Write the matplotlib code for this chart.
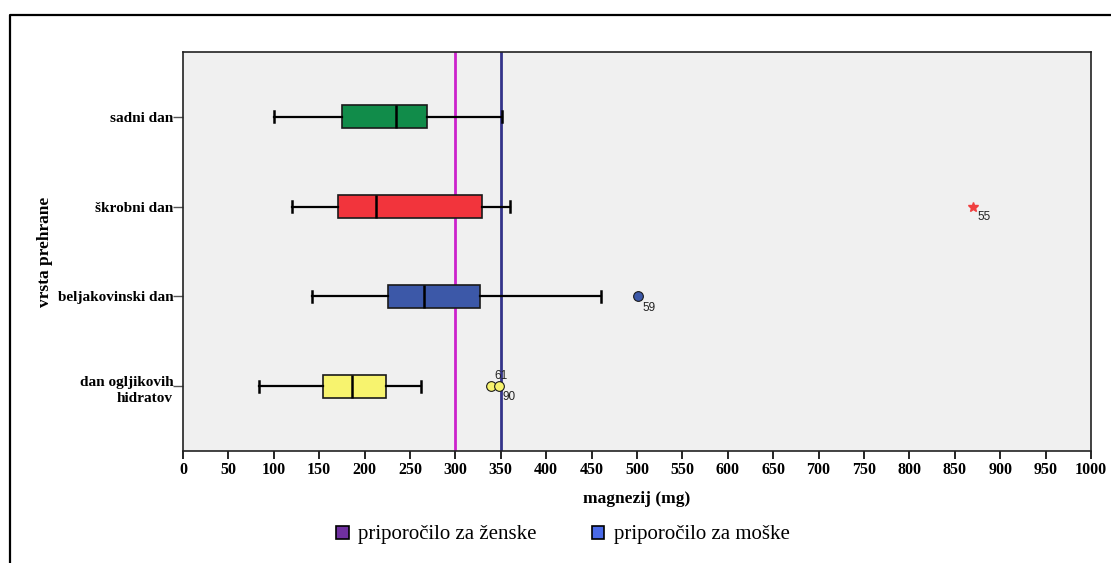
import matplotlib.pyplot as plt
import numpy as np
from matplotlib.patches import Patch
from matplotlib.lines import Line2D

# magnesium intake per diet day (mg), box summaries
categories = ['sadni dan', 'škrobni dan', 'beljakovinski dan', 'dan ogljikovih']
whislo = [100, 120, 142, 84]
q1     = [175.5, 171, 226, 154]
med    = [234.5, 213, 265.5, 186]
q3     = [268.5, 329.5, 327.5, 223.5]
whishi = [351.5, 360.5, 460.5, 262]
colors = ['#118c4a', '#f2343c', '#3c58a8', '#f7f36e']

# outliers: (category index, value, case id)
out_cat = [1, 2, 3, 3]
out_val = [870, 501, 339.5, 347.5]
out_id  = ['55', '59', '61', '90']

ref_women = 300
ref_men = 350

xticks = np.arange(0, 1001, 50)

serif = 'Liberation Serif'

fig = plt.figure(figsize=(11.11, 5.63), dpi=100)
ax = fig.add_axes([183/1111, 1 - 451/563, 908/1111, 399/563])
ax.set_facecolor('#f0f0f0')

pos = [4, 3, 2, 1]
stats = []
for i in range(len(categories)):
    stats.append(dict(med=med[i], q1=q1[i], q3=q3[i],
                      whislo=whislo[i], whishi=whishi[i], fliers=[]))

bp = ax.bxp(stats, positions=pos, orientation='horizontal', widths=0.26,
            patch_artist=True, showfliers=False,
            boxprops=dict(linewidth=1.2, edgecolor='#1a1a1a'),
            medianprops=dict(color='black', linewidth=1.8),
            whiskerprops=dict(color='black', linewidth=1.6),
            capprops=dict(color='black', linewidth=1.8),
            capwidths=0.12)
for b, c in zip(bp['boxes'], colors):
    b.set_facecolor(c)

ax.axvline(ref_women, color='#cc22cc', lw=2, zorder=1)
ax.axvline(ref_men, color='#34348a', lw=2, zorder=1)

# outliers
for ci, v, lab in zip(out_cat, out_val, out_id):
    y = pos[ci]
    if ci == 1:
        ax.plot(v, y, marker='*', ms=7, color='#f04040', mec='#f04040', ls='none')
        off = (5, -10)
    elif ci == 2:
        ax.plot(v, y, marker='o', ms=7, mfc=colors[ci], mec='#1a1a1a', mew=0.8, ls='none')
        off = (5, -12)
    else:
        ax.plot(v, y, marker='o', ms=7, mfc=colors[ci], mec='#1a1a1a', mew=0.8, ls='none')
        off = (3, 10) if lab == '61' else (4, -11)
    ax.annotate(lab, (v, y), xytext=off, textcoords='offset pixels',
                ha='left', va='center', fontsize=8.5, family='Liberation Sans',
                color='#222222')

ax.set_xlim(0, 1000)
ax.set_ylim(0.28, 4.72)
ax.set_xticks(xticks)
ax.set_xticklabels([str(t) for t in xticks], family=serif, fontweight='bold', fontsize=11.5)
ax.set_yticks(pos)
ax.set_yticklabels(categories, family=serif, fontweight='bold', fontsize=11)
ax.get_yticklabels()[3].set_verticalalignment('baseline')
ax.tick_params(axis='x', direction='out', length=6, width=1.2, pad=2)
ax.tick_params(axis='y', direction='out', length=7, width=1, color='#555555', pad=0)
ax.annotate('hidratov', xy=(0, pos[3]), xycoords=('axes fraction', 'data'),
            xytext=(-10, -16), textcoords='offset pixels', ha='right', va='baseline',
            family=serif, fontweight='bold', fontsize=11)
for s in ax.spines.values():
    s.set_color('#222222')
    s.set_linewidth(1.2)

ax.set_xlabel('magnezij (mg)', family=serif, fontweight='bold', fontsize=12.5, labelpad=9)
ax.set_ylabel('vrsta prehrane', family=serif, fontweight='bold', fontsize=12.5, labelpad=3)

handles = [Patch(facecolor='#7030a0', edgecolor='black', lw=1.2),
           Patch(facecolor='#4a6ae8', edgecolor='black', lw=1.2)]
fig.legend(handles, ['priporočilo za ženske', 'priporočilo za moške'],
           loc='center', bbox_to_anchor=(563/1111, 1 - 535/563), ncol=2,
           frameon=False, handlelength=0.6, handleheight=0.6, handletextpad=0.45,
           columnspacing=2.65, prop=dict(family=serif, size=15))

# outer frame
fig.add_artist(Line2D([9.5/1111, 9.5/1111, 1], [0, 1 - 15/563, 1 - 15/563],
                      color='black', lw=1.6, transform=fig.transFigure))

fig.savefig('out.png', dpi=100)
